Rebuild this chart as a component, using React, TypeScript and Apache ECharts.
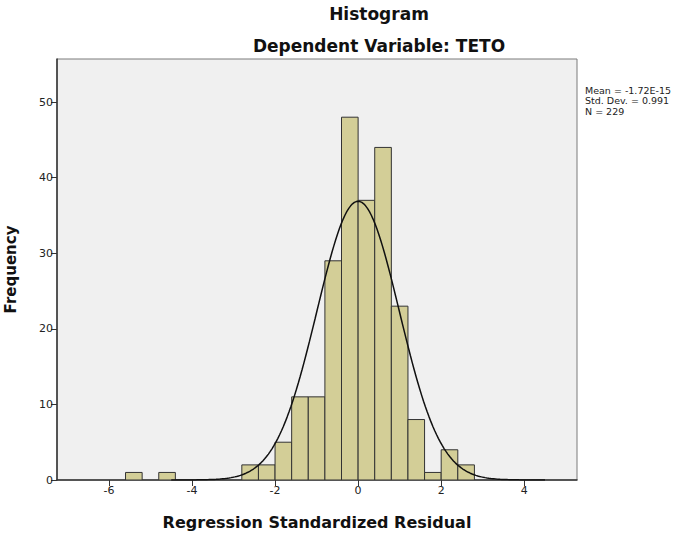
import React, { useEffect, useRef } from "react";
import * as echarts from "echarts";

// Histogram bins (left edges) and frequencies
const binWidth = 0.4;
const binLefts = [-5.6, -4.8, -2.8, -2.4, -2.0, -1.6, -1.2, -0.8, -0.4, 0.0, 0.4, 0.8, 1.2, 1.6, 2.0, 2.4];
const frequencies = [1, 1, 2, 2, 5, 11, 11, 29, 48, 37, 44, 23, 8, 1, 4, 2];

// Summary statistics shown at the right
const statMean = -1.72e-15;
const statSd = 0.991;
const statN = 229;
const statLines = ["Mean = -1.72E-15", "Std. Dev. = 0.991", "N = 229"];

// Axis ticks
const xTicks = [-6, -4, -2, 0, 2, 4];
const yTicks = [0, 10, 20, 30, 40, 50];

const titleText = "Histogram";
const subtitleText = "Dependent Variable: TETO";
const xTitle = "Regression Standardized Residual";
const yTitle = "Frequency";

export default function App() {
  const ref = useRef<HTMLDivElement>(null);

  useEffect(() => {
    if (!ref.current) return;
    const chart = echarts.init(ref.current, undefined, { renderer: "svg" });

    const barData = binLefts.map((l, i) => [l, +(l + binWidth).toFixed(2), frequencies[i]]);

    // Normal curve fitted with the displayed mean, sd and N
    const curve: number[][] = [];
    for (let k = 0; k <= 200; k++) {
      const x = -4.5 + (9 * k) / 200;
      const z = (x - statMean) / statSd;
      const y = (statN * binWidth) / (statSd * Math.sqrt(2 * Math.PI)) * Math.exp(-0.5 * z * z);
      curve.push([x, y]);
    }

    const font = "DejaVu Sans";

    chart.setOption({
      animation: false,
      backgroundColor: "#ffffff",
      textStyle: { fontFamily: font },
      grid: {
        left: 57,
        right: 115,
        top: 59,
        bottom: 54,
        show: true,
        backgroundColor: "#F0F0F0",
        borderColor: "#7a7a7a",
        borderWidth: 1,
        containLabel: false,
        outerBoundsMode: "none",
      },
      xAxis: {
        type: "value",
        min: -7.25,
        max: 5.27,
        name: xTitle,
        nameLocation: "middle",
        nameGap: 34,
        nameTextStyle: { fontFamily: font, fontWeight: "bold", fontSize: 16, color: "#111" },
        axisLine: { show: true, onZero: false, lineStyle: { color: "#333", width: 1.5 } },
        axisTick: { show: true, length: 6, customValues: xTicks, lineStyle: { color: "#333" } },
        axisLabel: { customValues: xTicks, fontSize: 11, color: "#222", margin: 5, fontFamily: font },
        splitLine: { show: false },
      },
      yAxis: {
        type: "value",
        min: 0,
        max: 55.7,
        name: yTitle,
        nameLocation: "middle",
        nameRotate: 90,
        nameGap: 39,
        nameTextStyle: { fontFamily: font, fontWeight: "bold", fontSize: 15, color: "#111" },
        axisLine: { show: true, onZero: false, lineStyle: { color: "#333", width: 1.5 } },
        axisTick: { show: true, length: 6, customValues: yTicks, lineStyle: { color: "#333" } },
        axisLabel: { customValues: yTicks, fontSize: 11, color: "#222", margin: 4, fontFamily: font },
        splitLine: { show: false },
      },
      graphic: [
        {
          type: "text",
          x: 379,
          y: 14,
          style: {
            text: titleText,
            fontFamily: font,
            fontWeight: "bold",
            fontSize: 17,
            fill: "#111",
            textAlign: "center",
            textVerticalAlign: "middle",
          },
        },
        {
          type: "text",
          x: 379,
          y: 46,
          style: {
            text: subtitleText,
            fontFamily: font,
            fontWeight: "bold",
            fontSize: 17,
            fill: "#111",
            textAlign: "center",
            textVerticalAlign: "middle",
          },
        },
        ...statLines.map((t, i) => ({
          type: "text",
          x: 585,
          y: 90 + i * 10.5,
          style: {
            text: t,
            fontFamily: font,
            fontSize: 9.5,
            fill: "#222",
            textAlign: "left",
            textVerticalAlign: "middle",
          },
        })),
      ],
      series: [
        {
          type: "custom",
          data: barData,
          encode: { x: [0, 1], y: 2 },
          clip: true,
          z: 2,
          renderItem: (params: any, api: any) => {
            const p0 = api.coord([api.value(0), api.value(2)]);
            const p1 = api.coord([api.value(1), 0]);
            return {
              type: "rect",
              shape: { x: p0[0], y: p0[1], width: p1[0] - p0[0], height: p1[1] - p0[1] },
              style: { fill: "#D3CE97", stroke: "#333", lineWidth: 1 },
            };
          },
        },
        {
          type: "line",
          data: curve,
          showSymbol: false,
          symbol: "none",
          smooth: false,
          clip: true,
          z: 3,
          lineStyle: { color: "#111", width: 1.5 },
        },
      ],
    });

    return () => chart.dispose();
  }, []);

  return (
    <div
      ref={ref}
      style={{ position: "fixed", left: 0, top: 0, width: 692, height: 534 }}
    />
  );
}
